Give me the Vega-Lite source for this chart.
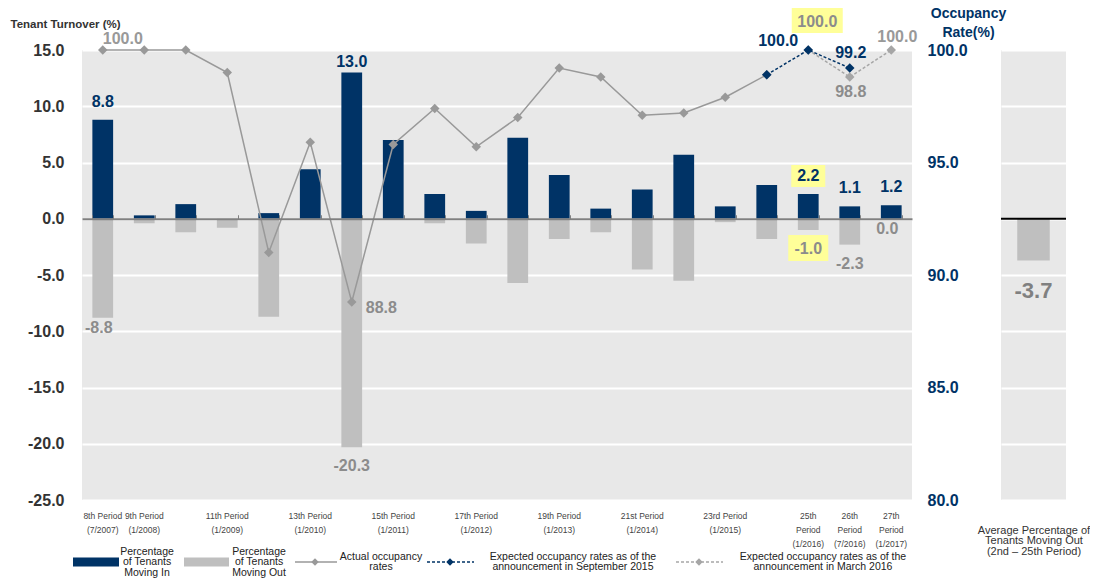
{
  "$schema": "https://vega.github.io/schema/vega-lite/v6.json",
  "padding": {"left": 10, "top": 6, "right": 0, "bottom": 0},
  "background": "white",
  "config": {"font": "Liberation Sans", "view": {"stroke": null}},
  "datasets": {
    "periods": [
      {"id": "8th", "period": "8th Period|(7/2007)", "in": 8.8, "out": -8.8, "act": 100.0, "sep": null, "mar": null},
      {"id": "9th", "period": "9th Period|(1/2008)", "in": 0.3, "out": -0.4, "act": 100.0, "sep": null, "mar": null},
      {"id": "10th", "period": "10th", "in": 1.3, "out": -1.2, "act": 100.0, "sep": null, "mar": null},
      {"id": "11th", "period": "11th Period|(1/2009)", "in": 0, "out": -0.8, "act": 99.0, "sep": null, "mar": null},
      {"id": "12th", "period": "12th", "in": 0.5, "out": -8.7, "act": 91.0, "sep": null, "mar": null},
      {"id": "13th", "period": "13th Period|(1/2010)", "in": 4.4, "out": 0, "act": 95.9, "sep": null, "mar": null},
      {"id": "14th", "period": "14th", "in": 13.0, "out": -20.3, "act": 88.8, "sep": null, "mar": null},
      {"id": "15th", "period": "15th Period|(1/2011)", "in": 7.0, "out": 0, "act": 95.8, "sep": null, "mar": null},
      {"id": "16th", "period": "16th", "in": 2.2, "out": -0.4, "act": 97.4, "sep": null, "mar": null},
      {"id": "17th", "period": "17th Period|(1/2012)", "in": 0.7, "out": -2.2, "act": 95.7, "sep": null, "mar": null},
      {"id": "18th", "period": "18th", "in": 7.2, "out": -5.7, "act": 97.0, "sep": null, "mar": null},
      {"id": "19th", "period": "19th Period|(1/2013)", "in": 3.9, "out": -1.8, "act": 99.2, "sep": null, "mar": null},
      {"id": "20th", "period": "20th", "in": 0.9, "out": -1.2, "act": 98.8, "sep": null, "mar": null},
      {"id": "21st", "period": "21st Period|(1/2014)", "in": 2.6, "out": -4.5, "act": 97.1, "sep": null, "mar": null},
      {"id": "22nd", "period": "22nd", "in": 5.7, "out": -5.5, "act": 97.2, "sep": null, "mar": null},
      {"id": "23rd", "period": "23rd  Period|(1/2015)", "in": 1.1, "out": -0.3, "act": 97.9, "sep": null, "mar": null},
      {"id": "24th", "period": "24th", "in": 3.0, "out": -1.8, "act": 98.9, "sep": 98.9, "mar": null},
      {"id": "25th", "period": "25th|Period|(1/2016)", "in": 2.2, "out": -1.0, "act": null, "sep": 100.0, "mar": 100.0},
      {"id": "26th", "period": "26th|Period|(7/2016)", "in": 1.1, "out": -2.3, "act": null, "sep": 99.2, "mar": 98.8},
      {"id": "27th", "period": "27th|Period|(1/2017)", "in": 1.2, "out": 0.0, "act": null, "sep": null, "mar": 100.0}
    ],
    "avg": [{"cat": "Average", "out": -3.7}],
    "legend": [
      {"key": "in", "x0": -9, "x1": 37, "xc": 14, "tx": 65, "text": "Percentage\nof Tenants\nMoving In"},
      {"key": "out", "x0": 102, "x1": 147, "xc": 124.5, "tx": 177, "text": "Percentage\nof Tenants\nMoving Out"},
      {"key": "act", "x0": 213, "x1": 255, "xc": 233, "tx": 299, "text": "Actual occupancy\nrates"},
      {"key": "sep", "x0": 345, "x1": 392, "xc": 368, "tx": 491, "text": "Expected occupancy rates as of the\nannouncement in September 2015"},
      {"key": "mar", "x0": 594, "x1": 641, "xc": 617, "tx": 741, "text": "Expected occupancy rates as of the\nannouncement in March 2016"}
    ]
  },
  "columns": 2,
  "spacing": {"row": 44, "column": 89},
  "bounds": "flush",
  "concat": [
    {
      "width": 830,
      "height": 450,
      "view": {"fill": "#E8E8E8", "stroke": null},
      "data": {"name": "periods"},
      "transform": [
        {"calculate": "(datum.out < 0 ? '-' : '') + format(abs(datum.out), '.1f')", "as": "outLabel"}
      ],
      "resolve": {"scale": {"y": "independent"}, "axis": {"x": "independent", "y": "independent"}},
      "layer": [
        {
          "layer": [
            {
              "mark": {"type": "bar", "color": "#003366"},
              "encoding": {
                "x": {"field": "period", "type": "nominal", "sort": null,
                  "scale": {"type": "band", "paddingInner": 0.5, "paddingOuter": 0.25},
                  "axis": {"orient": "bottom", "title": null, "domain": false, "ticks": false, "labelAngle": 0,
                    "labelExpr": "indexof(datum.value, '|') < 0 ? '' : split(datum.value, '|')",
                    "labelFontSize": 8.5, "labelColor": "#444444", "labelLineHeight": 14, "labelPadding": 11,
                    "labelOverlap": false, "labelLimit": 200, "grid": false}},
                "y": {"field": "in", "type": "quantitative", "scale": {"domain": [-25, 15]},
                  "axis": {"orient": "left", "values": [-25, -20, -15, -10, -5, 0, 5, 10, 15],
                    "labelExpr": "(datum.value < 0 ? '-' : '') + format(abs(datum.value), '.1f')",
                    "labelFontSize": 16, "labelFontWeight": "bold", "labelColor": "#333333", "labelPadding": 18,
                    "ticks": false, "domain": false, "grid": true, "gridColor": "#FFFFFF", "gridWidth": 2, "gridOpacity": 1,
                    "title": "Tenant Turnover (%)", "titleAngle": 0, "titleAlign": "left", "titleBaseline": "middle",
                    "titleX": -72, "titleY": -26, "titleFontSize": 11.5, "titleFontWeight": "bold", "titleColor": "#333333"}}
              }
            },
            {
              "mark": {"type": "bar", "color": "#BFBFBF"},
              "encoding": {
                "x": {"field": "period", "type": "nominal", "sort": null},
                "y": {"field": "out", "type": "quantitative", "scale": {"domain": [-25, 15]}}
              }
            },
            {
              "transform": [{"filter": "datum.id === '25th'"}],
              "mark": {"type": "point", "shape": "M-1,-0.65L1,-0.65L1,0.65L-1,0.65Z", "size": 1156, "filled": true, "color": "#FFFF99", "opacity": 1, "yOffset": -18},
              "encoding": {
                "x": {"field": "period", "type": "nominal", "sort": null},
                "y": {"field": "in", "type": "quantitative", "scale": {"domain": [-25, 15]}}
              }
            },
            {
              "transform": [{"filter": "datum.id === '25th'"}],
              "mark": {"type": "point", "shape": "M-1,-0.65L1,-0.65L1,0.65L-1,0.65Z", "size": 1600, "filled": true, "color": "#FFFF99", "opacity": 1, "yOffset": 18},
              "encoding": {
                "x": {"field": "period", "type": "nominal", "sort": null},
                "y": {"field": "out", "type": "quantitative", "scale": {"domain": [-25, 15]}}
              }
            },
            {
              "transform": [{"filter": {"field": "id", "oneOf": ["8th", "25th", "26th", "27th"]}}],
              "mark": {"type": "text", "fontSize": 16, "fontWeight": "bold", "color": "#003366", "baseline": "middle", "dy": -18},
              "encoding": {
                "x": {"field": "period", "type": "nominal", "sort": null},
                "y": {"field": "in", "type": "quantitative", "scale": {"domain": [-25, 15]}},
                "text": {"field": "in", "type": "quantitative", "format": ".1f"}
              }
            },
            {
              "transform": [{"filter": "datum.id === '14th'"}],
              "mark": {"type": "text", "fontSize": 16, "fontWeight": "bold", "color": "#003366", "baseline": "middle", "dy": -11},
              "encoding": {
                "x": {"field": "period", "type": "nominal", "sort": null},
                "y": {"field": "in", "type": "quantitative", "scale": {"domain": [-25, 15]}},
                "text": {"field": "in", "type": "quantitative", "format": ".1f"}
              }
            },
            {
              "transform": [{"filter": {"field": "id", "oneOf": ["14th", "25th", "26th"]}}],
              "mark": {"type": "text", "fontSize": 16, "fontWeight": "bold", "color": "#8C8C8C", "baseline": "middle", "dy": 19},
              "encoding": {
                "x": {"field": "period", "type": "nominal", "sort": null},
                "y": {"field": "out", "type": "quantitative", "scale": {"domain": [-25, 15]}},
                "text": {"field": "outLabel", "type": "nominal"}
              }
            },
            {
              "transform": [{"filter": {"field": "id", "oneOf": ["8th", "27th"]}}],
              "mark": {"type": "text", "fontSize": 16, "fontWeight": "bold", "color": "#8C8C8C", "baseline": "middle", "dy": 10, "dx": -4},
              "encoding": {
                "x": {"field": "period", "type": "nominal", "sort": null},
                "y": {"field": "out", "type": "quantitative", "scale": {"domain": [-25, 15]}},
                "text": {"field": "outLabel", "type": "nominal"}
              }
            }
          ]
        },
        {
          "layer": [
            {
              "mark": {"type": "line", "color": "#999999", "strokeWidth": 1.5,
                "point": {"shape": "diamond", "size": 90, "filled": true, "color": "#999999"}},
              "encoding": {
                "x": {"field": "period", "type": "nominal", "sort": null,
                  "scale": {"type": "band", "paddingInner": 0.5, "paddingOuter": 0.25},
                  "axis": {"orient": "top", "offset": -168.75, "title": null, "labels": false, "domain": true,
                    "domainColor": "#808080", "domainWidth": 2, "ticks": true, "tickBand": "extent",
                    "tickColor": "#808080", "tickSize": 4, "tickWidth": 1, "grid": false, "zindex": 1}},
                "y": {"field": "act", "type": "quantitative", "scale": {"domain": [80, 100]},
                  "axis": {"orient": "right", "values": [80, 85, 90, 95, 100], "format": ".1f",
                    "labelFontSize": 16, "labelFontWeight": "bold", "labelColor": "#003366", "labelPadding": 15,
                    "ticks": false, "domain": false, "grid": false,
                    "title": ["Occupancy", "Rate(%)"], "titleAngle": 0, "titleAlign": "center", "titleBaseline": "middle",
                    "titleX": 56, "titleY": -37, "titleFontSize": 14, "titleFontWeight": "bold", "titleColor": "#003366",
                    "titleLineHeight": 19}}
              }
            },
            {
              "mark": {"type": "line", "color": "#A6A6A6", "strokeWidth": 1.5, "strokeDash": [3, 2],
                "point": {"shape": "diamond", "size": 90, "filled": true, "color": "#A6A6A6"}},
              "encoding": {
                "x": {"field": "period", "type": "nominal", "sort": null},
                "y": {"field": "mar", "type": "quantitative", "scale": {"domain": [80, 100]}}
              }
            },
            {
              "mark": {"type": "line", "color": "#003366", "strokeWidth": 1.5, "strokeDash": [3, 2],
                "point": {"shape": "diamond", "size": 90, "filled": true, "color": "#003366"}},
              "encoding": {
                "x": {"field": "period", "type": "nominal", "sort": null},
                "y": {"field": "sep", "type": "quantitative", "scale": {"domain": [80, 100]}}
              }
            },
            {
              "transform": [{"filter": "datum.id === '25th'"}],
              "mark": {"type": "point", "shape": "M-1,-0.49L1,-0.49L1,0.49L-1,0.49Z", "size": 2601, "filled": true, "color": "#FFFF99", "opacity": 1, "xOffset": 9, "yOffset": -29.5},
              "encoding": {
                "x": {"field": "period", "type": "nominal", "sort": null},
                "y": {"field": "mar", "type": "quantitative", "scale": {"domain": [80, 100]}}
              }
            },
            {
              "transform": [{"filter": "datum.id === '8th'"}],
              "mark": {"type": "text", "fontSize": 16, "fontWeight": "bold", "color": "#999999", "baseline": "middle", "dx": 20, "dy": -11},
              "encoding": {
                "x": {"field": "period", "type": "nominal", "sort": null},
                "y": {"field": "act", "type": "quantitative", "scale": {"domain": [80, 100]}},
                "text": {"field": "act", "type": "quantitative", "format": ".1f"}
              }
            },
            {
              "transform": [{"filter": "datum.id === '14th'"}],
              "mark": {"type": "text", "fontSize": 16, "fontWeight": "bold", "color": "#8C8C8C", "baseline": "middle", "align": "left", "dx": 14, "dy": 6},
              "encoding": {
                "x": {"field": "period", "type": "nominal", "sort": null},
                "y": {"field": "act", "type": "quantitative", "scale": {"domain": [80, 100]}},
                "text": {"field": "act", "type": "quantitative", "format": ".1f"}
              }
            },
            {
              "transform": [{"filter": "datum.id === '25th'"}],
              "mark": {"type": "text", "fontSize": 16, "fontWeight": "bold", "color": "#003366", "baseline": "middle", "align": "right", "dx": -10, "dy": -9},
              "encoding": {
                "x": {"field": "period", "type": "nominal", "sort": null},
                "y": {"field": "sep", "type": "quantitative", "scale": {"domain": [80, 100]}},
                "text": {"field": "sep", "type": "quantitative", "format": ".1f"}
              }
            },
            {
              "transform": [{"filter": "datum.id === '26th'"}],
              "mark": {"type": "text", "fontSize": 16, "fontWeight": "bold", "color": "#003366", "baseline": "middle", "dx": 1, "dy": -15},
              "encoding": {
                "x": {"field": "period", "type": "nominal", "sort": null},
                "y": {"field": "sep", "type": "quantitative", "scale": {"domain": [80, 100]}},
                "text": {"field": "sep", "type": "quantitative", "format": ".1f"}
              }
            },
            {
              "transform": [{"filter": "datum.id === '25th'"}],
              "mark": {"type": "text", "fontSize": 16, "fontWeight": "bold", "color": "#8C8C8C", "baseline": "middle", "dx": 9, "dy": -28},
              "encoding": {
                "x": {"field": "period", "type": "nominal", "sort": null},
                "y": {"field": "mar", "type": "quantitative", "scale": {"domain": [80, 100]}},
                "text": {"field": "mar", "type": "quantitative", "format": ".1f"}
              }
            },
            {
              "transform": [{"filter": "datum.id === '26th'"}],
              "mark": {"type": "text", "fontSize": 16, "fontWeight": "bold", "color": "#8C8C8C", "baseline": "middle", "dx": 1, "dy": 15},
              "encoding": {
                "x": {"field": "period", "type": "nominal", "sort": null},
                "y": {"field": "mar", "type": "quantitative", "scale": {"domain": [80, 100]}},
                "text": {"field": "mar", "type": "quantitative", "format": ".1f"}
              }
            },
            {
              "transform": [{"filter": "datum.id === '27th'"}],
              "mark": {"type": "text", "fontSize": 16, "fontWeight": "bold", "color": "#999999", "baseline": "middle", "dx": 6, "dy": -13},
              "encoding": {
                "x": {"field": "period", "type": "nominal", "sort": null},
                "y": {"field": "mar", "type": "quantitative", "scale": {"domain": [80, 100]}},
                "text": {"field": "mar", "type": "quantitative", "format": ".1f"}
              }
            }
          ]
        }
      ]
    },
    {
      "width": 65,
      "height": 450,
      "view": {"fill": "#E8E8E8", "stroke": null},
      "data": {"name": "avg"},
      "transform": [
        {"calculate": "(datum.out < 0 ? '-' : '') + format(abs(datum.out), '.1f')", "as": "outLabel"}
      ],
      "layer": [
        {
          "mark": {"type": "bar", "color": "#BFBFBF"},
          "encoding": {
            "x": {"field": "cat", "type": "nominal",
              "scale": {"type": "band", "paddingInner": 0.5, "paddingOuter": 0.25},
              "axis": {"labels": false, "ticks": false, "domain": false, "grid": false,
                "title": ["Average Percentage of", "Tenants Moving Out", "(2nd \u2013 25th Period)"],
                "titleFontSize": 11, "titleFontWeight": "normal", "titleColor": "#333333", "titleLineHeight": 10.5,
                "titlePadding": 24, "titleLimit": 300}},
            "y": {"field": "out", "type": "quantitative", "scale": {"domain": [-25, 15]},
              "axis": {"values": [-25, -20, -15, -10, -5, 0, 5, 10, 15], "labels": false, "ticks": false, "domain": false,
                "grid": true, "gridColor": "#FFFFFF", "gridWidth": 2, "gridOpacity": 1, "title": null}}
          }
        },
        {
          "mark": {"type": "rule", "color": "#000000", "strokeWidth": 2},
          "encoding": {
            "y": {"datum": 0, "type": "quantitative", "scale": {"domain": [-25, 15]}}
          }
        },
        {
          "mark": {"type": "text", "fontSize": 22, "fontWeight": "bold", "color": "#808080", "baseline": "middle", "dy": 31},
          "encoding": {
            "x": {"field": "cat", "type": "nominal"},
            "y": {"field": "out", "type": "quantitative", "scale": {"domain": [-25, 15]}},
            "text": {"field": "outLabel", "type": "nominal"}
          }
        }
      ]
    },
    {
      "width": 830,
      "height": 36,
      "view": {"fill": null, "stroke": null},
      "data": {"name": "legend"},
      "layer": [
        {
          "transform": [{"filter": {"field": "key", "oneOf": ["in", "out"]}}],
          "mark": {"type": "rule", "strokeWidth": 9, "strokeCap": "butt"},
          "encoding": {
            "x": {"field": "x0", "type": "quantitative", "scale": {"domain": [0, 830]}, "axis": null},
            "x2": {"field": "x1"},
            "y": {"datum": 0.5, "type": "quantitative", "scale": {"domain": [0, 1]}, "axis": null},
            "color": {"field": "key", "type": "nominal", "legend": null,
              "scale": {"domain": ["in", "out", "act", "sep", "mar"], "range": ["#003366", "#BFBFBF", "#999999", "#003366", "#A6A6A6"]}}
          }
        },
        {
          "transform": [{"filter": {"field": "key", "oneOf": ["act", "sep", "mar"]}}],
          "mark": {"type": "rule", "strokeWidth": 1.5},
          "encoding": {
            "x": {"field": "x0", "type": "quantitative", "scale": {"domain": [0, 830]}, "axis": null},
            "x2": {"field": "x1"},
            "y": {"datum": 0.5, "type": "quantitative", "scale": {"domain": [0, 1]}, "axis": null},
            "color": {"field": "key", "type": "nominal", "legend": null,
              "scale": {"domain": ["in", "out", "act", "sep", "mar"], "range": ["#003366", "#BFBFBF", "#999999", "#003366", "#A6A6A6"]}},
            "strokeDash": {"field": "key", "type": "nominal", "legend": null,
              "scale": {"domain": ["act", "sep", "mar"], "range": [[1, 0], [3, 2], [3, 2]]}}
          }
        },
        {
          "transform": [{"filter": {"field": "key", "oneOf": ["act", "sep", "mar"]}}],
          "mark": {"type": "point", "shape": "diamond", "size": 55, "filled": true, "opacity": 1},
          "encoding": {
            "x": {"field": "xc", "type": "quantitative", "scale": {"domain": [0, 830]}, "axis": null},
            "y": {"datum": 0.5, "type": "quantitative", "scale": {"domain": [0, 1]}, "axis": null},
            "color": {"field": "key", "type": "nominal", "legend": null,
              "scale": {"domain": ["in", "out", "act", "sep", "mar"], "range": ["#003366", "#BFBFBF", "#999999", "#003366", "#A6A6A6"]}}
          }
        },
        {
          "transform": [{"filter": {"field": "key", "oneOf": ["in", "out"]}}],
          "mark": {"type": "text", "fontSize": 10.5, "color": "#222222", "align": "center", "baseline": "middle", "lineBreak": "\n", "lineHeight": 10.5, "dy": -10.5},
          "encoding": {
            "x": {"field": "tx", "type": "quantitative", "scale": {"domain": [0, 830]}, "axis": null},
            "y": {"datum": 0.5, "type": "quantitative", "scale": {"domain": [0, 1]}, "axis": null},
            "text": {"field": "text", "type": "nominal"}
          }
        },
        {
          "transform": [{"filter": {"field": "key", "oneOf": ["act", "sep", "mar"]}}],
          "mark": {"type": "text", "fontSize": 10.5, "color": "#222222", "align": "center", "baseline": "middle", "lineBreak": "\n", "lineHeight": 10, "dy": -5.5},
          "encoding": {
            "x": {"field": "tx", "type": "quantitative", "scale": {"domain": [0, 830]}, "axis": null},
            "y": {"datum": 0.5, "type": "quantitative", "scale": {"domain": [0, 1]}, "axis": null},
            "text": {"field": "text", "type": "nominal"}
          }
        }
      ]
    }
  ]
}
